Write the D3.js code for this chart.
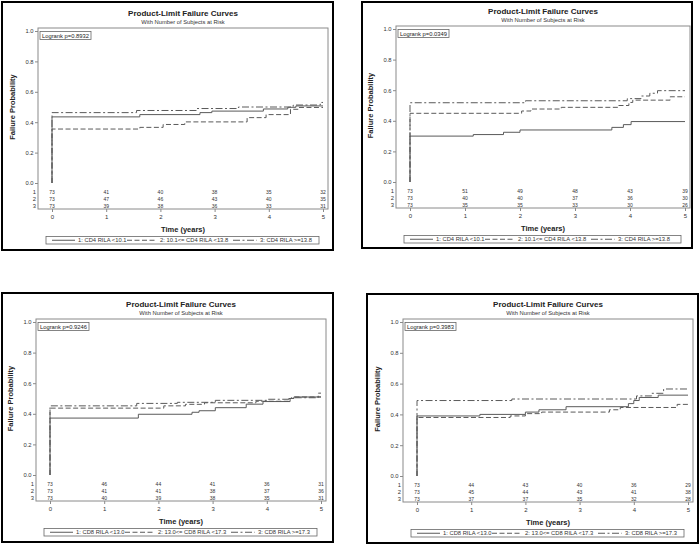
<!DOCTYPE html>
<html><head><meta charset="utf-8">
<script src="https://cdn.jsdelivr.net/npm/d3@7"></script>
<style>body{margin:0;background:#fff}svg{display:block}text{font-family:"Liberation Sans",Arial,sans-serif}</style>
</head><body><svg id="c" width="700" height="546"></svg>
<script>
// ---------- data ----------
const timeTicks = [0, 1, 2, 3, 4, 5];
const probTicks = [0, 0.2, 0.4, 0.6, 0.8, 1.0];
const groupIds = ["1", "2", "3"];
const titleText = "Product-Limit Failure Curves";
const subtitleText = "With Number of Subjects at Risk";
const xLabel = "Time (years)";
const yLabel = "Failure Probability";
const cd4Legend = ["1: CD4 RILA <10.1", "2: 10.1<= CD4 RILA <13.8", "3: CD4 RILA >=13.8"];
const cd8Legend = ["1: CD8 RILA <13.0", "2: 13.0<= CD8 RILA <17.3", "3: CD8 RILA >=17.3"];
const pValues = ["0.8932", "0.0349", "0.9246", "0.3983"];

// step curves: [time, failure probability] at each step
const aG1 = [[0,0.435],[1.62,0.45],[2.73,0.463],[2.95,0.473],[3.9,0.487],[4.35,0.498],[4.5,0.507]];
const aG2 = [[0,0.355],[1.62,0.366],[2.05,0.385],[2.45,0.402],[3.6,0.43],[3.95,0.45],[4.4,0.485],[4.55,0.497]];
const aG3 = [[0,0.463],[1.56,0.477],[2.67,0.49],[3.44,0.50],[4.45,0.513],[4.95,0.53]];

const bG1 = [[0,0.30],[1.15,0.31],[1.7,0.325],[2.0,0.34],[3.67,0.357],[3.88,0.375],[4.02,0.395]];
const bG2 = [[0,0.449],[2.03,0.464],[2.2,0.477],[2.75,0.488],[3.78,0.50],[3.98,0.52],[4.05,0.535],[4.73,0.557]];
const bG3 = [[0,0.518],[2.1,0.531],[3.95,0.545],[4.2,0.562],[4.36,0.58],[4.5,0.597]];

const cG1 = [[0,0.372],[1.63,0.397],[2.62,0.41],[2.75,0.42],[3.05,0.44],[3.62,0.463],[3.93,0.48],[4.43,0.50],[4.5,0.51]];
const cG2 = [[0,0.437],[2.1,0.452],[2.5,0.462],[2.85,0.472],[3.8,0.482],[4.4,0.50],[4.5,0.51]];
const cG3 = [[0,0.452],[1.6,0.468],[2.35,0.475],[3.05,0.488],[4.0,0.495],[4.45,0.505],[4.95,0.535]];

const dG1 = [[0,0.39],[1.16,0.40],[2.0,0.415],[2.25,0.43],[2.75,0.45],[3.9,0.47],[4.0,0.49],[4.1,0.51],[4.45,0.525]];
const dG2 = [[0,0.38],[1.72,0.39],[2.0,0.405],[2.3,0.415],[3.55,0.43],[3.75,0.445],[4.8,0.465]];
const dG3 = [[0,0.49],[1.75,0.50],[4.05,0.52],[4.33,0.537],[4.55,0.565]];

// numbers at risk per group at each time tick
const aRisk1 = [73,41,40,38,35,32], aRisk2 = [73,47,46,43,40,35], aRisk3 = [73,39,38,36,33,31];
const bRisk1 = [73,51,49,48,43,39], bRisk2 = [73,40,40,37,36,30], bRisk3 = [73,35,35,33,30,26];
const cRisk1 = [73,46,44,41,36,31], cRisk2 = [73,41,41,38,37,36], cRisk3 = [73,40,39,38,35,31];
const dRisk1 = [73,44,43,40,36,29], dRisk2 = [73,45,44,43,41,38], dRisk3 = [73,37,37,35,32,28];

// ---------- layout ----------
const panels = [
  {box:[2,2,333,250], x0:52, x5:323, y1:31, y0:183, p:pValues[0], legend:cd4Legend, series:[aG1,aG2,aG3], risk:[aRisk1,aRisk2,aRisk3]},
  {box:[362,2,692,248], x0:410, x5:685, y1:29, y0:182, p:pValues[1], legend:cd4Legend, series:[bG1,bG2,bG3], risk:[bRisk1,bRisk2,bRisk3]},
  {box:[2,293,333,542], x0:50, x5:321, y1:322, y0:475, p:pValues[2], legend:cd8Legend, series:[cG1,cG2,cG3], risk:[cRisk1,cRisk2,cRisk3]},
  {box:[367,294,698,543], x0:417, x5:688, y1:322, y0:476, p:pValues[3], legend:cd8Legend, series:[dG1,dG2,dG3], risk:[dRisk1,dRisk2,dRisk3]}
];
const dashes = [null, "5,2.5", "7,2.5,2,2.5"];
const curveColor = "#5a5a5a", frameColor = "#8a8a8a", textColor = "#333";
const endTime = 5;

const svg = d3.select("#c");

panels.forEach(P => {
  const g = svg.append("g");
  const x = d3.scaleLinear().domain([0, 5]).range([P.x0, P.x5]);
  const y = d3.scaleLinear().domain([0, 1]).range([P.y0, P.y1]);
  const left = P.x0 - 14, right = P.x5 + 5, top = P.y1 - 3, bottom = P.y0 + 26;
  const cx = (left + right) / 2;

  // outer border
  g.append("rect").attr("x", P.box[0]).attr("y", P.box[1])
    .attr("width", P.box[2]-P.box[0]).attr("height", P.box[3]-P.box[1])
    .attr("fill", "none").attr("stroke", "#000").attr("stroke-width", 2);

  // titles
  g.append("text").attr("x", cx).attr("y", P.y1 - 15).attr("text-anchor", "middle")
    .attr("font-size", 8).attr("font-weight", "bold").attr("fill", "#222").text(titleText);
  g.append("text").attr("x", cx).attr("y", P.y1 - 7).attr("text-anchor", "middle")
    .attr("font-size", 5.8).attr("fill", textColor).text(subtitleText);

  // plot frame
  g.append("rect").attr("x", left).attr("y", top).attr("width", right-left).attr("height", bottom-top)
    .attr("fill", "none").attr("stroke", frameColor).attr("stroke-width", 1);

  // y axis
  const ya = g.append("g").attr("transform", `translate(${left},0)`)
    .call(d3.axisLeft(y).tickValues(probTicks).tickFormat(d3.format(".1f")).tickSize(3).tickPadding(1.5));
  ya.select(".domain").remove();
  ya.selectAll("line").attr("stroke", frameColor);
  ya.selectAll("text").attr("font-size", 5.8).attr("fill", textColor).attr("font-family", '"Liberation Sans",Arial,sans-serif');

  // x axis
  const xa = g.append("g").attr("transform", `translate(0,${bottom})`)
    .call(d3.axisBottom(x).tickValues(timeTicks).tickFormat(d3.format("d")).tickSize(3).tickPadding(3));
  xa.select(".domain").remove();
  xa.selectAll("line").attr("stroke", frameColor);
  xa.selectAll("text").attr("font-size", 6).attr("fill", textColor).attr("font-family", '"Liberation Sans",Arial,sans-serif');

  // axis labels
  g.append("text").attr("x", cx).attr("y", P.y0 + 48.5).attr("text-anchor", "middle")
    .attr("font-size", 7.5).attr("font-weight", "bold").attr("fill", "#222").text(xLabel);
  g.append("text").attr("transform", `translate(${left - 23},${(P.y0 + P.y1)/2}) rotate(-90)`)
    .attr("text-anchor", "middle").attr("font-size", 7.5).attr("font-weight", "bold").attr("fill", "#222").text(yLabel);

  // numbers at risk
  P.risk.forEach((row, i) => {
    const ry = P.y0 + 10.8 + i * 7;
    g.append("text").attr("x", left - 2).attr("y", ry).attr("text-anchor", "end")
      .attr("font-size", 5.8).attr("fill", textColor).text(groupIds[i]);
    g.selectAll(null).data(row).enter().append("text")
      .attr("x", (d, j) => x(timeTicks[j])).attr("y", ry).attr("text-anchor", "middle")
      .attr("font-size", 5).attr("fill", textColor).text(d => d);
  });

  // curves
  const line = d3.line().x(d => x(d[0])).y(d => y(d[1])).curve(d3.curveStepAfter);
  P.series.forEach((s, i) => {
    const pts = [[0, 0]].concat(s).concat([[endTime, s[s.length-1][1]]]);
    g.append("path").attr("d", line(pts)).attr("fill", "none")
      .attr("stroke", curveColor).attr("stroke-width", 1)
      .attr("stroke-dasharray", dashes[i]);
  });

  // logrank box
  g.append("rect").attr("x", left + 2).attr("y", P.y1 + 0.5).attr("width", 51).attr("height", 8)
    .attr("fill", "#fff").attr("stroke", "#666").attr("stroke-width", 0.8);
  g.append("text").attr("x", left + 4).attr("y", P.y1 + 6.6).attr("font-size", 5.8).attr("fill", "#222")
    .text("Logrank p=" + P.p);

  // legend
  const lx = P.x0 - 6, ly = P.y0 + 53.5, lw = (P.x5 - 4) - lx;
  g.append("rect").attr("x", lx).attr("y", ly).attr("width", lw).attr("height", 7.5)
    .attr("fill", "none").attr("stroke", "#666").attr("stroke-width", 0.8);
  const entryOff = [[6, 29, 32], [81, 111, 114], [187, 211, 214]];
  P.legend.forEach((lab, i) => {
    const [a, b, t] = entryOff[i];
    g.append("line").attr("x1", lx + a).attr("x2", lx + b).attr("y1", ly + 3.75).attr("y2", ly + 3.75)
      .attr("stroke", curveColor).attr("stroke-width", 1).attr("stroke-dasharray", dashes[i]);
    g.append("text").attr("x", lx + t).attr("y", ly + 5.8).attr("font-size", 5.8).attr("fill", textColor).text(lab);
  });
});
</script>
</body></html>
